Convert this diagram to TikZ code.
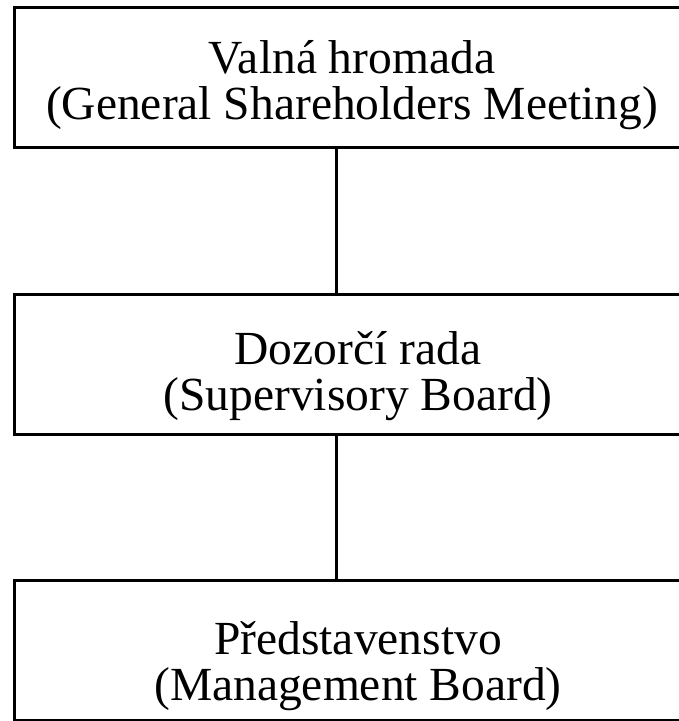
\documentclass[tikz,border=0pt]{standalone}
\usepackage{fontspec}
\setmainfont{Liberation Serif}
\begin{document}
\begin{tikzpicture}[x=1pt,y=1pt,
  orgbox/.style={draw=black,line width=3pt,inner sep=0pt,minimum width=677pt,minimum height=140pt,anchor=north west},
  lbl/.style={align=center,inner sep=0pt,anchor=base,font=\fontsize{47.5pt}{46pt}\selectfont},
  link/.style={draw=black,line width=3pt}]
\useasboundingbox (0,0) rectangle (679,-721);
\node[orgbox] (gm) at (13,-6) {};
\node[orgbox] (sb) at (13,-293) {};
\node[orgbox] (mb) at (13,-579) {};
\node[lbl] (gmt) at (352,-119) {Valná hromada\\(General Shareholders Meeting)};
\node[lbl] (sbt) at (358,-410) {Dozorčí rada\\(Supervisory Board)};
\node[lbl] (mbt) at (358,-700) {Představenstvo\\(Management Board)};
\coordinate (lx) at (336,0);
\draw[link] (gm.south -| lx) -- (sb.north -| lx);
\draw[link] (sb.south -| lx) -- (mb.north -| lx);
\end{tikzpicture}
\end{document}
